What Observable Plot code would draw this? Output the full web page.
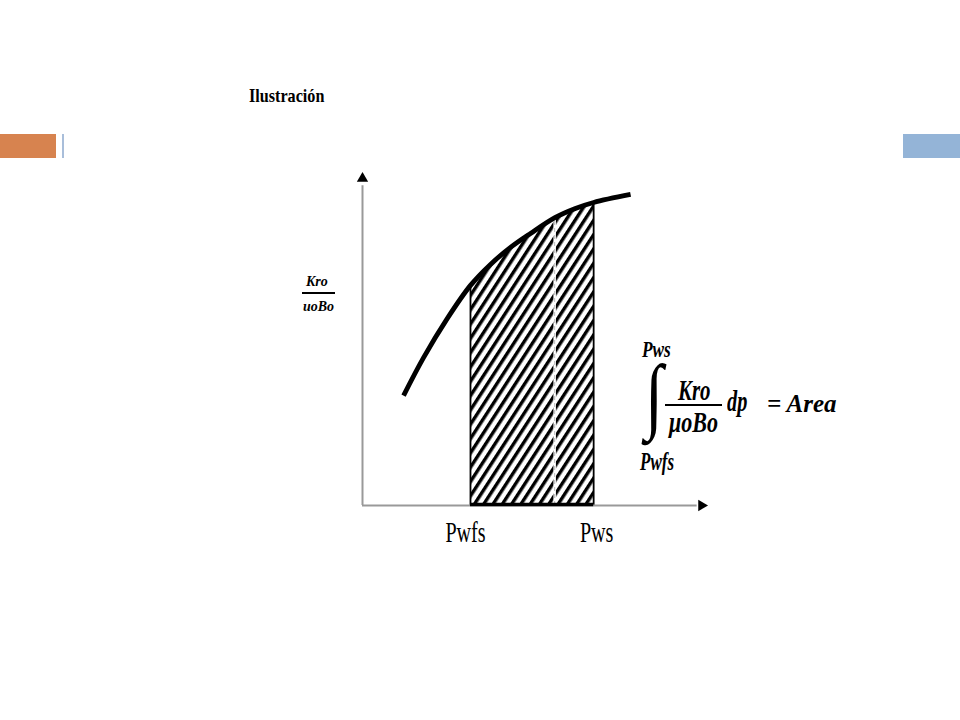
<!DOCTYPE html>
<html>
<head>
<meta charset="utf-8">
<script src="https://cdn.jsdelivr.net/npm/d3@7"></script>
<script src="https://cdn.jsdelivr.net/npm/@observablehq/plot@0.6"></script>
<style>
  html, body { margin: 0; padding: 0; background: #fff; }
  #page { position: relative; width: 960px; height: 720px; overflow: hidden; background: #fff; font-family: "Liberation Serif", serif; }
  #page svg.plot { position: absolute; left: 0; top: 0; }
  .abs { position: absolute; line-height: 1; white-space: nowrap; color: #000; }
  .bar { position: absolute; }
</style>
</head>
<body>
<div id="page">
  <div class="bar" style="left:0;top:134px;width:56px;height:24px;background:#D7834F"></div>
  <div class="bar" style="left:62px;top:134px;width:2px;height:24px;background:#A9BEDA"></div>
  <div class="bar" style="left:903px;top:134px;width:57px;height:24px;background:#94B4D7"></div>
  <div class="abs" id="title" style="left:249px;top:86px;font-size:19px;font-weight:bold;transform:scaleX(0.85);transform-origin:left">Ilustración</div>
</div>
<script>
// ---- data ----
const curveX = [1.19, 1.77, 2.46, 3.13, 3.71, 4.29, 4.87, 5.59, 6.17, 6.70, 7.77];
const curveY = [3.30, 4.44, 5.62, 6.61, 7.24, 7.75, 8.17, 8.65, 8.92, 9.10, 9.34];
const PWFS = 3.13;
const PWS = 6.70;
const xTickValues = [PWFS, PWS];
const xTickLabels = ["Pwfs", "Pws"];
const boundaryX = [PWFS, PWS];
const boundaryTop = [6.6, 9.1];
const dashX = [5.57];
const dashTop = [8.66];
const axisMax = 10;

const curve = curveX.map((x, i) => ({x, y: curveY[i]}));
const boundaries = boundaryX.map((x, i) => ({x, top: boundaryTop[i]}));
const dashes = dashX.map((x, i) => ({x, top: dashTop[i]}));

const plot = Plot.plot({
  width: 960,
  height: 720,
  marginLeft: 362,
  marginRight: 253,
  marginTop: 172,
  marginBottom: 215,
  style: {background: "transparent", overflow: "visible"},
  x: {domain: [0, axisMax]},
  y: {domain: [0, axisMax], axis: null},
  marks: [
    Plot.areaY(curve, {x: "x", y: "y", curve: "catmull-rom", fill: "url(#hatch)"}),
    Plot.ruleX(dashes, {x: "x", y1: 0, y2: "top", stroke: "#fff", strokeWidth: 2.5}),
    Plot.ruleX(dashes, {x: "x", y1: 0, y2: "top", stroke: "#bbb", strokeWidth: 1, strokeDasharray: "4,3"}),
    Plot.ruleX(boundaries, {x: "x", y1: 0, y2: "top", stroke: "#000", strokeWidth: 1.8}),
    Plot.ruleX([0], {y1: 0, y2: axisMax - 0.4, stroke: "#999", strokeWidth: 2}),
    Plot.ruleY([0], {x1: 0, x2: axisMax - 0.3, stroke: "#999", strokeWidth: 2}),
    Plot.ruleY([0], {x1: PWFS, x2: PWS, stroke: "#000", strokeWidth: 3.5, dy: -1}),
    Plot.line(curve, {x: "x", y: "y", curve: "catmull-rom", stroke: "#000", strokeWidth: 4.8, strokeLinecap: "butt"}),
    Plot.dot([{x: 0, y: axisMax}], {x: "x", y: "y", symbol: "triangle", r: 4.2, fill: "#000", stroke: "none", dy: 6}),
    Plot.dot([{x: axisMax, y: 0}], {x: "x", y: "y", symbol: "triangle", r: 4.2, fill: "#000", stroke: "none", rotate: 90, dx: -6}),
    Plot.axisX({ticks: xTickValues, tickFormat: (d, i) => xTickLabels[i], tickSize: 0, tickPadding: 15, fontSize: 30, fontFamily: "Liberation Serif", label: null, stroke: "none", fill: "#000"})
  ]
});
plot.classList.add("plot");

const svg = d3.select(plot);
const defs = svg.insert("defs", ":first-child");
const pat = defs.append("pattern")
  .attr("id", "hatch").attr("patternUnits", "userSpaceOnUse")
  .attr("width", 7.8).attr("height", 10)
  .attr("patternTransform", "rotate(33)");
pat.append("rect").attr("width", 3.4).attr("height", 10).attr("fill", "#000");

const xs = plot.scale("x");
const cx0 = xs.apply(PWFS), cx1 = xs.apply(PWS);
defs.append("clipPath").attr("id", "areaClip")
  .append("rect").attr("x", cx0).attr("y", 0).attr("width", cx1 - cx0).attr("height", 720);
svg.selectAll('g[aria-label="area"]').attr("clip-path", "url(#areaClip)");

svg.selectAll('g[aria-label="x-axis tick label"] text').each(function(d, i) {
  const t = this.getAttribute("transform") || "";
  const shift = i === 0 ? -5 : 3;
  this.setAttribute("transform", `translate(${shift},0) ` + t + " scale(0.67,1)");
});

document.getElementById("page").appendChild(plot);

// annotations (HTML text)
const page = document.getElementById("page");
function addText(txt, left, baseline, size, opts = {}) {
  const d = document.createElement("div");
  d.className = "abs";
  d.textContent = txt;
  const L = opts.lh || 1;
  const off = size * (L / 2 + 0.3375); // baseline offset inside the line box
  d.style.left = left + "px";
  d.style.top = (baseline - off) + "px";
  d.style.lineHeight = L;
  d.style.fontSize = size + "px";
  if (opts.italic) d.style.fontStyle = "italic";
  if (opts.bold) d.style.fontWeight = "bold";
  const sx = opts.sx || 1, sy = opts.sy || 1;
  d.style.transform = `scale(${sx},${sy})`;
  d.style.transformOrigin = opts.baselineOrigin ? `0px ${off}px` : (opts.origin || "left");
  if (opts.family) d.style.fontFamily = opts.family;
  page.appendChild(d);
  return d;
}
function addLine(x1, x2, y, w) {
  const d = document.createElement("div");
  d.className = "bar";
  d.style.left = x1 + "px"; d.style.width = (x2 - x1) + "px";
  d.style.top = (y - w / 2) + "px"; d.style.height = w + "px";
  d.style.background = "#000";
  page.appendChild(d);
}
// y label fraction
addText("Kro", 306, 287, 14, {italic: true, bold: true});
addLine(302, 335, 293, 2);
addText("uoBo", 303, 312, 14, {italic: true, bold: true});

// integral formula
addText("Pws", 642, 357, 24, {italic: true, bold: true, sx: 0.72});
addText("\u222B", 645, 424, 60, {bold: true, sx: 1.1, sy: 1.4, lh: 0.75, baselineOrigin: true});
addText("Kro", 678, 400, 29, {italic: true, bold: true, sx: 0.72});
addLine(665, 722, 405, 2.2);
addText("\u03BCoBo", 669, 432, 29, {italic: true, bold: true, sx: 0.76});
addText("dp", 727, 411, 29, {italic: true, bold: true, sx: 0.7});
addText("= Area", 767, 412, 25, {italic: true, bold: true});
addText("Pwfs", 640, 470, 25, {italic: true, bold: true, sx: 0.68});
</script>
</body>
</html>
